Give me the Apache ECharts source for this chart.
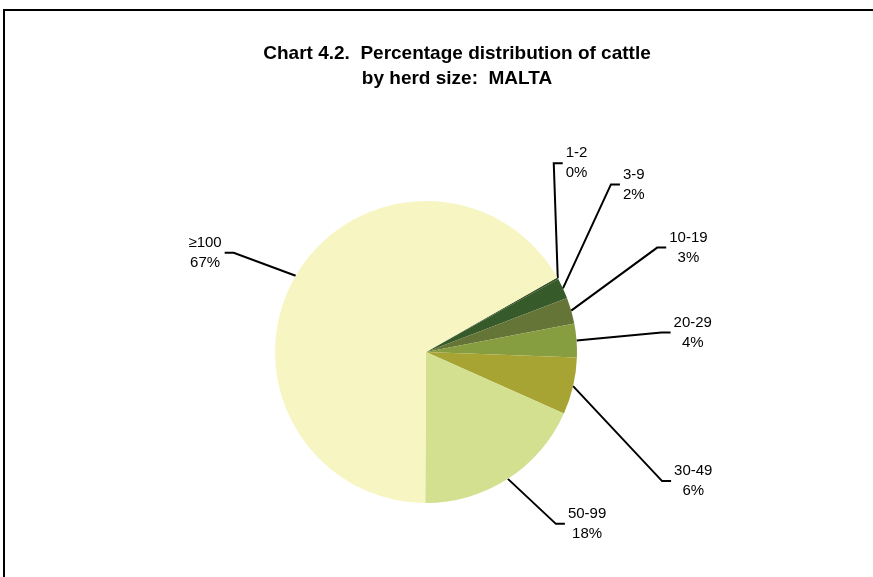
<!DOCTYPE html>
<html>
<head>
<meta charset="utf-8">
<script src="https://cdn.jsdelivr.net/npm/echarts@6/dist/echarts.min.js"></script>
<style>
html,body{margin:0;padding:0;background:#fff}
#c{width:873px;height:577px}
</style>
</head>
<body>
<div id="c"></div>
<script>
// ---- data ----
const categories = ['1-2', '3-9', '10-19', '20-29', '30-49', '50-99', '≥100'];
const shares = [0.2, 2.2, 2.8, 3.6, 6.1, 18.4, 66.7];
const titleLines = ['Chart 4.2.  Percentage distribution of cattle', 'by herd size:  MALTA'];

// ---- styles ----
const colors = ['#2E4A22', '#375A2A', '#647537', '#879E40', '#A8A434', '#D2E08F', '#F7F5C2'];
// leader-line elbow offsets relative to each slice's edge anchor
const leaderElbows = [[-4, -115], [48, -104], [86, -63], [85, -8], [89, 95], [48, 45], [-62, -23]];
const leaderTail = 9;

const chart = echarts.init(document.getElementById('c'));
const font = 'Liberation Sans, Arial, sans-serif';

chart.setOption({
  animation: false,
  backgroundColor: '#fff',
  title: {
    text: titleLines.join('\n'),
    left: 452,
    textAlign: 'center',
    top: 36,
    textStyle: {
      fontFamily: font,
      fontWeight: 'bold',
      fontSize: 19,
      lineHeight: 25,
      color: '#000'
    }
  },
  graphic: [{
    type: 'rect',
    shape: { x: 4, y: 10, width: 1000, height: 1000 },
    style: { fill: 'none', stroke: '#000', lineWidth: 2 },
    silent: true
  }],
  series: [{
    type: 'pie',
    center: [426, 352],
    radius: 151,
    startAngle: 29.6,
    clockwise: true,
    avoidLabelOverlap: false,
    minShowLabelAngle: 0,
    data: categories.map((c, i) => ({
      name: c,
      value: shares[i],
      itemStyle: { color: colors[i] }
    })),
    itemStyle: { borderWidth: 0 },
    label: {
      show: true,
      position: 'outside',
      formatter: p => p.name + '\n' + Math.round(p.value) + '%',
      fontFamily: font,
      fontSize: 15,
      lineHeight: 20,
      color: '#000'
    },
    labelLine: {
      show: true,
      length: 20,
      length2: 10,
      lineStyle: { color: '#000', width: 2 }
    },
    labelLayout: function (p) {
      const pts = p.labelLinePoints;
      if (!pts) return {};
      const s = pts[0];
      const e = leaderElbows[p.dataIndex];
      const dir = pts[2][0] >= pts[1][0] ? 1 : -1;
      const ex = s[0] + e[0], ey = s[1] + e[1];
      const tx = ex + dir * leaderTail;
      return {
        x: tx + dir * (3 + p.labelRect.width / 2),
        y: ey,
        align: 'center',
        verticalAlign: 'middle',
        labelLinePoints: [s, [ex, ey], [tx, ey]]
      };
    },
    emphasis: { disabled: true }
  }]
});
</script>
</body>
</html>
